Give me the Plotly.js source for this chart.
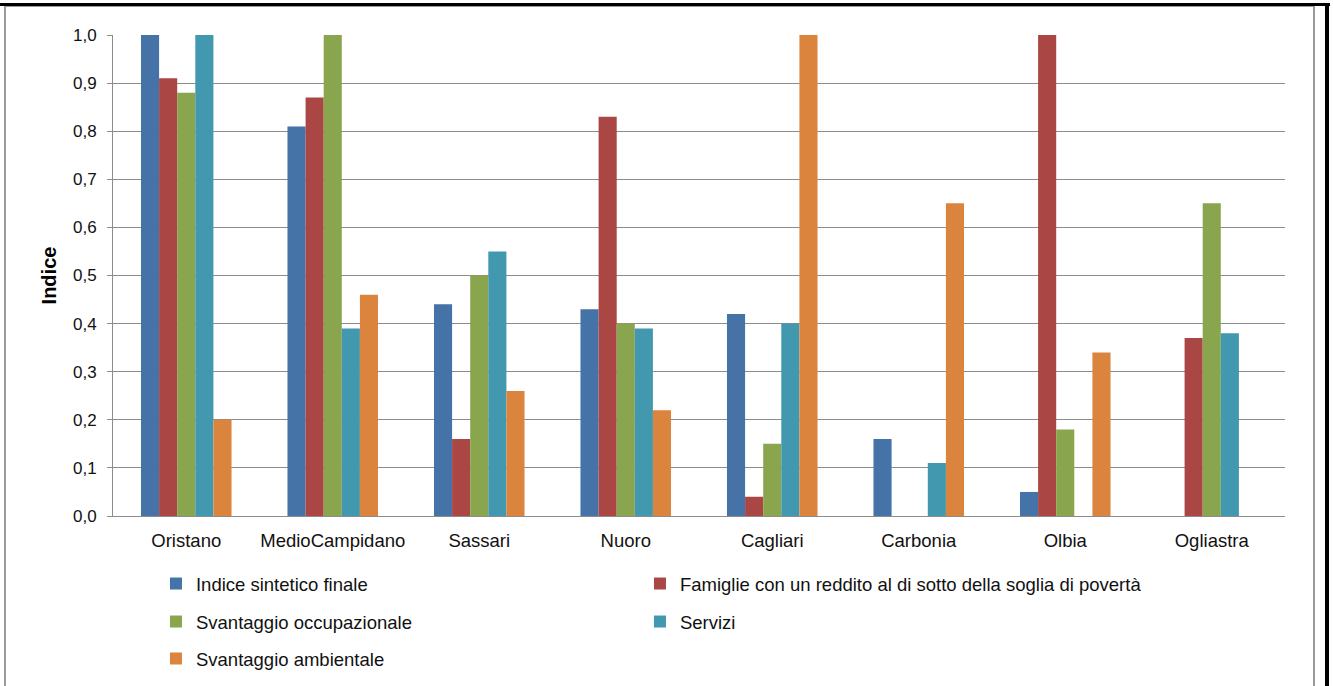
<!DOCTYPE html>
<html>
<head>
<meta charset="utf-8">
<script src="https://cdn.plot.ly/plotly-3.0.1.min.js"></script>
<style>
  html, body { margin: 0; padding: 0; background: #fff; }
  #wrap { position: relative; width: 1333px; height: 686px; overflow: hidden; }
  #chart { position: absolute; left: 0; top: 0; width: 1333px; height: 686px; }
  .frame { position: absolute; pointer-events: none; }
  #topBlack { left: 0; top: 3px; width: 1330px; height: 3px; background: #000; }
  #rightBlack { left: 1325px; top: 3px; width: 4px; height: 700px; background: #000; }
  #greyBox { left: 4px; top: 5px; width: 1307px; height: 700px; border: 2px solid #9a9a9a; border-bottom: none; }
</style>
</head>
<body>
<div id="wrap">
  <div id="chart"></div>
  <div class="frame" id="greyBox"></div>
  <div class="frame" id="topBlack"></div>
  <div class="frame" id="rightBlack"></div>
</div>
<script>
// Province categories
const provinces = ['Oristano', 'MedioCampidano', 'Sassari', 'Nuoro', 'Cagliari', 'Carbonia', 'Olbia', 'Ogliastra'];

// Index values per series
const indiceSintetico = [1.00, 0.81, 0.44, 0.43, 0.42, 0.16, 0.05, 0.00];
const famigliePoverta = [0.91, 0.87, 0.16, 0.83, 0.04, 0.00, 1.00, 0.37];
const svantaggioOccup = [0.88, 1.00, 0.50, 0.40, 0.15, 0.00, 0.18, 0.65];
const servizi         = [1.00, 0.39, 0.55, 0.39, 0.40, 0.11, 0.00, 0.38];
const svantaggioAmb   = [0.20, 0.46, 0.26, 0.22, 1.00, 0.65, 0.34, 0.00];

const seriesNames = [
  'Indice sintetico finale',
  'Famiglie con un reddito al di sotto della soglia di povertà',
  'Svantaggio occupazionale',
  'Servizi',
  'Svantaggio ambientale'
];
const seriesValues = [indiceSintetico, famigliePoverta, svantaggioOccup, servizi, svantaggioAmb];
const seriesColors = ['#4572A7', '#AA4643', '#89A54E', '#4198AF', '#DB843D'];
// legend rows: two entries in the first two rows, one in the last
const seriesLegend = ['legend', 'legend', 'legend2', 'legend2', 'legend3'];

const yTicks = [0, 0.1, 0.2, 0.3, 0.4, 0.5, 0.6, 0.7, 0.8, 0.9, 1.0];

const traces = seriesNames.map((name, i) => ({
  type: 'bar',
  name: name,
  x: provinces,
  y: seriesValues[i],
  legend: seriesLegend[i],
  legendwidth: 540,
  marker: { color: seriesColors[i], line: { width: 0 } },
  hoverinfo: 'x+y+name'
}));
// entries in the left column keep a fixed width so the right column lines up
[0, 2, 4].forEach(i => { traces[i].legendwidth = 439; });

const legendFont = { family: 'Liberation Sans, Arial, sans-serif', size: 18.5, color: '#111' };
const legendBase = {
  orientation: 'h',
  xref: 'container',
  yref: 'container',
  xanchor: 'left',
  yanchor: 'middle',
  x: 0.1170,
  entrywidthmode: 'pixels',
  font: legendFont,
  bgcolor: 'rgba(0,0,0,0)',
  borderwidth: 0,
  traceorder: 'normal'
};

const layout = {
  width: 1333,
  height: 686,
  margin: { l: 113, r: 48, t: 35, b: 170 },
  paper_bgcolor: 'rgba(0,0,0,0)',
  plot_bgcolor: '#fff',
  separators: ', ',
  barmode: 'group',
  bargap: 0.382,
  bargroupgap: 0,
  font: { family: 'Liberation Sans, Arial, sans-serif', color: '#111' },
  xaxis: {
    type: 'category',
    showline: true,
    linecolor: '#8c8c8c',
    linewidth: 1,
    ticks: '',
    showgrid: false,
    tickfont: { size: 18.5, color: '#111' },
    ticklabelstandoff: 8
  },
  yaxis: {
    range: [0, 1],
    tickvals: yTicks,
    tickformat: '.1f',
    showline: true,
    linecolor: '#8c8c8c',
    linewidth: 1,
    ticks: 'outside',
    ticklen: 5,
    tickcolor: '#8c8c8c',
    showgrid: true,
    gridcolor: '#8c8c8c',
    gridwidth: 1,
    zeroline: false,
    tickfont: { size: 17, color: '#111' },
    ticklabelstandoff: 7,
    title: { text: 'Indice', font: { size: 20, color: '#000', weight: 'bold' }, standoff: 10 }
  },
  legend:  Object.assign({}, legendBase, { y: 0.1487 }),
  legend2: Object.assign({}, legendBase, { y: 0.0933 }),
  legend3: Object.assign({}, legendBase, { y: 0.0394 }),
  showlegend: true
};

Plotly.newPlot('chart', traces, layout, { displayModeBar: false, staticPlot: true });
</script>
</body>
</html>
